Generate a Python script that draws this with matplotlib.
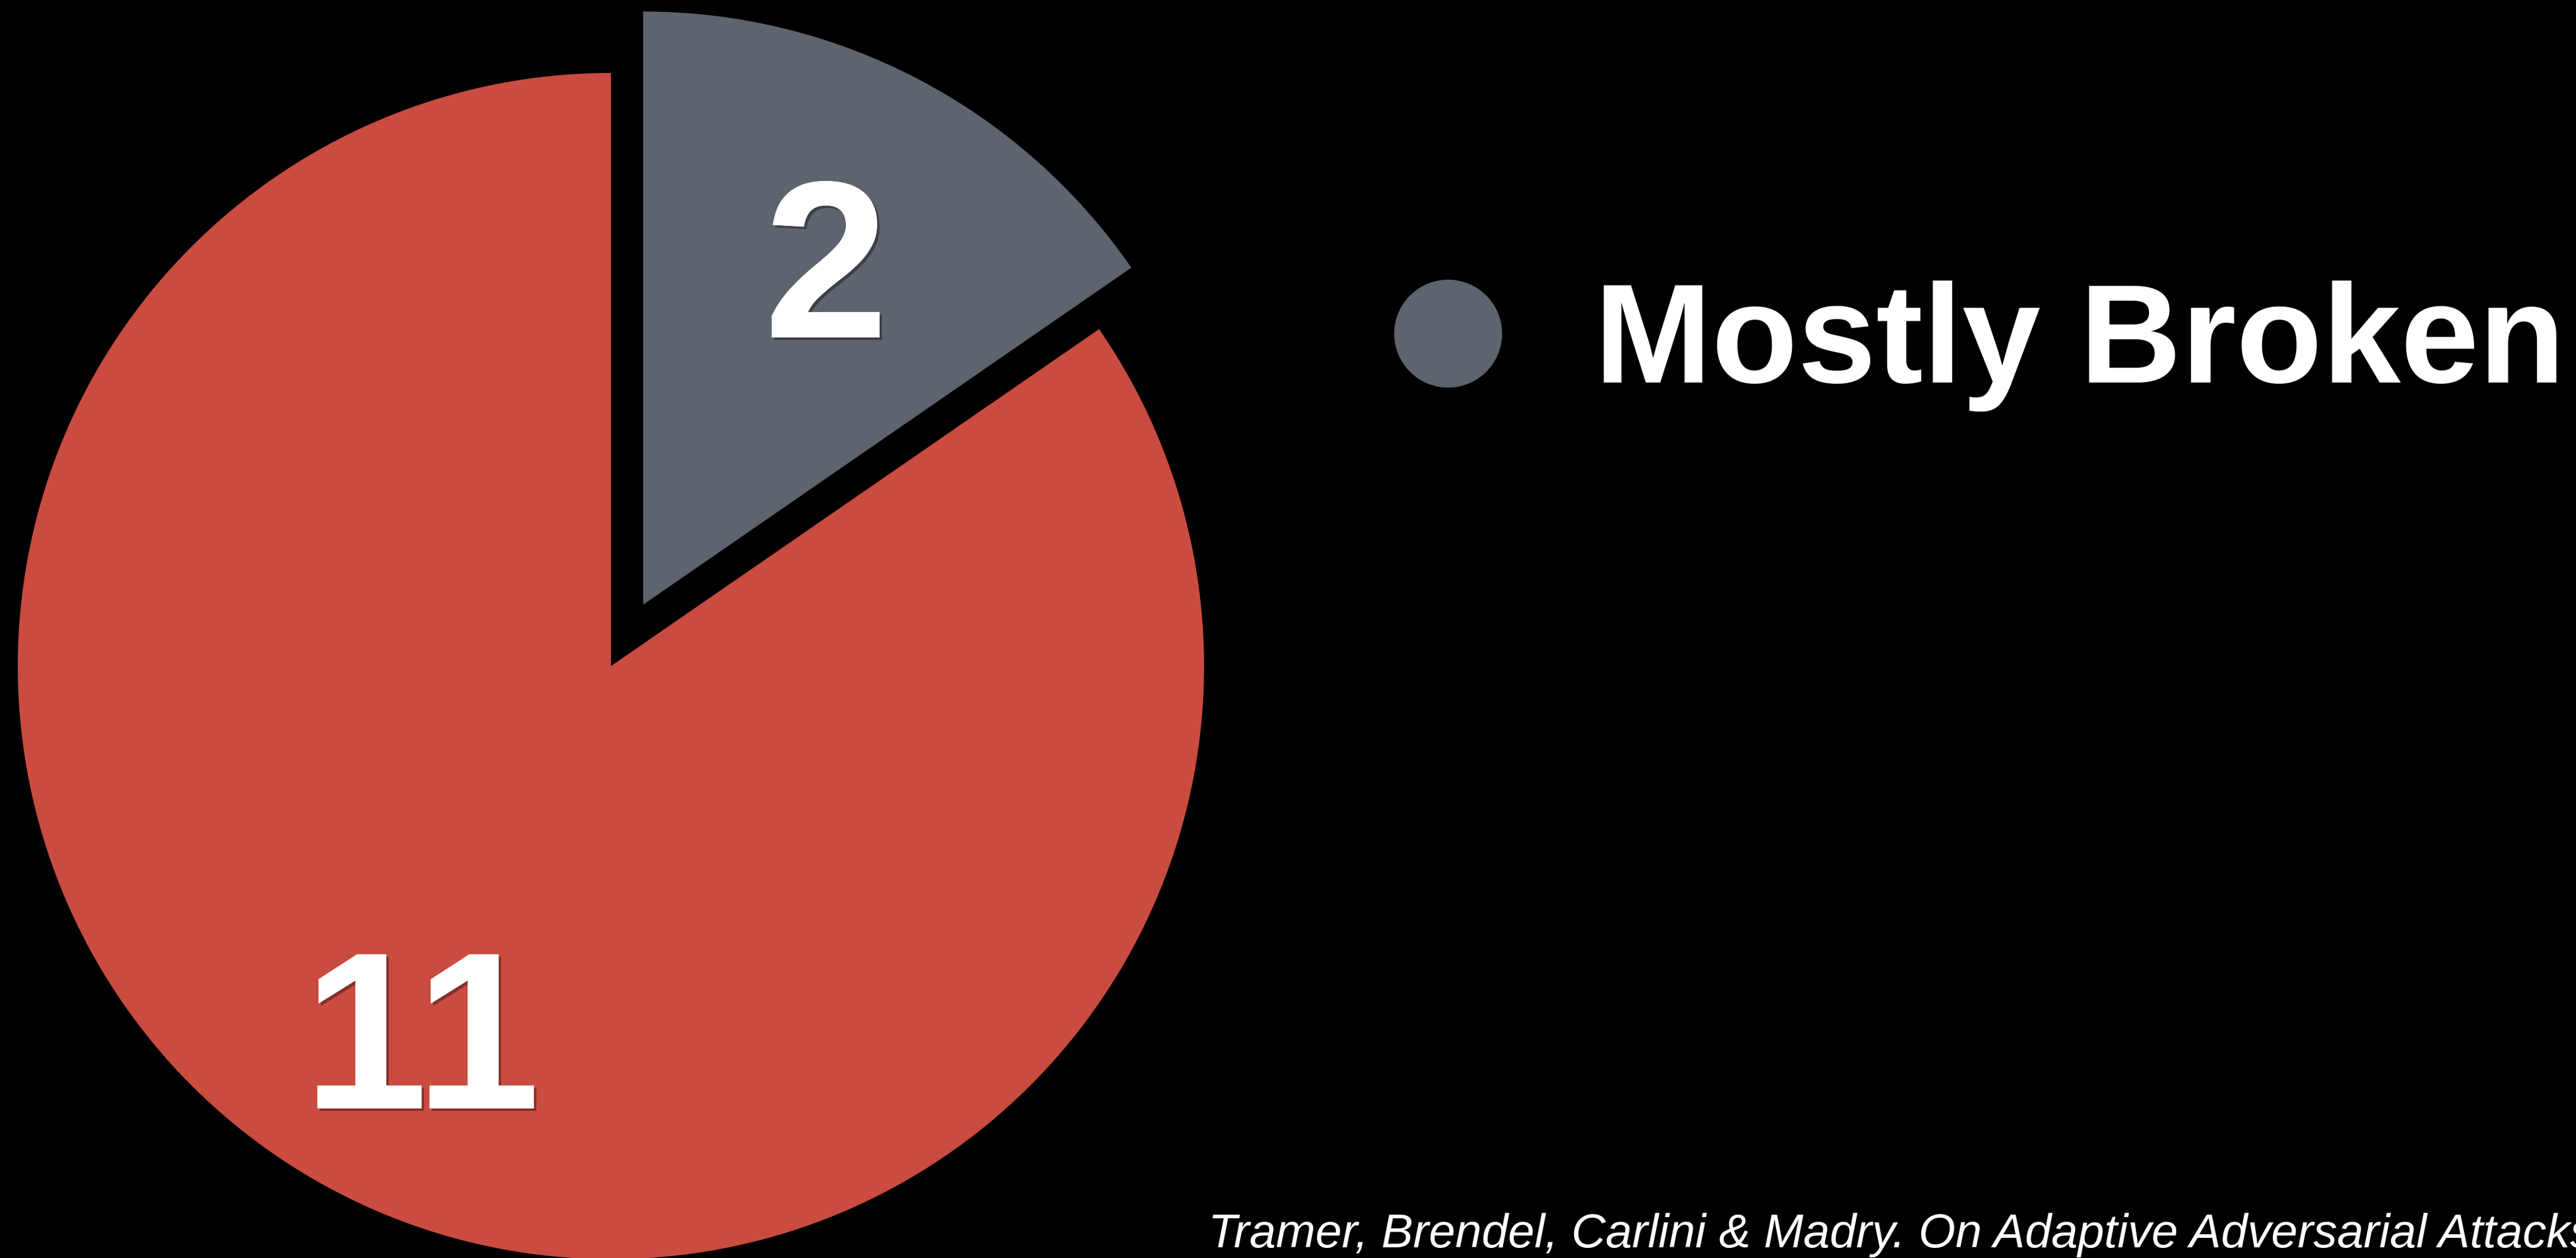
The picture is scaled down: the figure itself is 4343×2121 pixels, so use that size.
import numpy as np
import matplotlib
matplotlib.use("Agg")
import matplotlib.pyplot as plt
from matplotlib.lines import Line2D
import matplotlib.patheffects as pe

# Data
categories = ["Mostly Broken", "Other"]
counts = [2, 11]
colors = ["#5E646D", "#CA4B40"]
legend_labels = ["Mostly Broken"]
citation = "Tramer, Brendel, Carlini & Madry. On Adaptive Adversarial Attacks"

W, H = 4343, 2121
DPI = 100
fig = plt.figure(figsize=(W / DPI, H / DPI), dpi=DPI, facecolor="black")
ax = fig.add_axes([0, 0, 1, 1])
ax.set_facecolor("black")

cx, cy, R = 1030, 998, 1000
explode_frac = [0.117, 0.0]
wedges, _ = ax.pie(
    counts,
    colors=colors,
    startangle=90,
    counterclock=False,
    explode=[f * R for f in explode_frac],
    center=(cx, cy),
    radius=R,
    frame=True,
    wedgeprops=dict(linewidth=0),
)
ax.set_xlim(0, W)
ax.set_ylim(0, H)
ax.set_aspect("equal")
ax.axis("off")

# Count labels placed along each wedge's mid-angle
shadow = [pe.withSimplePatchShadow(offset=(3, -3), shadow_rgbFace="black", alpha=0.35),
          pe.Normal()]
label_dist = [0.664, 0.687]
for w, n, d in zip(wedges, counts, label_dist):
    mid = np.deg2rad((w.theta1 + w.theta2) / 2)
    x0, y0 = w.center
    tx = x0 + d * R * np.cos(mid)
    ty = y0 + d * R * np.sin(mid)
    ax.text(tx, ty, str(n), ha="center", va="center_baseline",
            fontsize=272, fontweight="bold", family="Liberation Sans",
            color="white", path_effects=shadow)

# Legend
handle = Line2D([], [], linestyle="none", marker="o", markersize=131,
                markerfacecolor=colors[0], markeredgewidth=0)
leg = ax.legend([handle], legend_labels, loc="center left",
                bbox_to_anchor=(0.5347, 1537 / H), frameon=False,
                borderpad=0, borderaxespad=0, handlelength=1.0, handletextpad=0.54,
                prop=dict(family="Liberation Sans", weight="bold", size=171))
for t in leg.get_texts():
    t.set_color("white")

# Citation
ax.text(2037, 18, citation, ha="left", va="baseline", fontsize=57.6,
        style="italic", family="Liberation Sans", color="white")

fig.savefig("out.png", dpi=DPI, facecolor="black")
